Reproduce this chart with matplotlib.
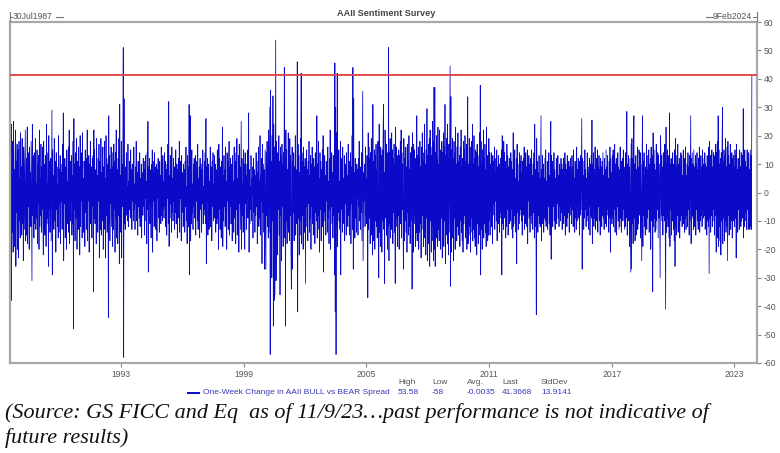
import matplotlib
matplotlib.use("Agg")
import matplotlib.pyplot as plt
from matplotlib.lines import Line2D
import pandas as pd

# ---- data: one-week change in AAII bull-bear spread (weekly) ----
wk_1987_1992 = [
    35, -22, 12, -38, 24, -14, 18, -6, -21, 25, -16, 8, -19, 13, 22, -26, 11, -7, 17, -20, 9, 15, -23, 18, -10, 5, -16, 21, -12,
    9, -15, 19, -11, 6, -24, 16, 10, -13, 4, 22, -17, -6, 12, -15, 23, -18, 10, -5, 14, -20, 16, -9, 7, -12, 18,
    -10, -31, 24, -8, 13, -4, -16, 14, 6, -11, 19, -13, 3, -9, 15, -18, 10, -4, 13, -20, 22, -12, 5, -8, 17, -14,
    9, -6, 16, -12, -22, 18, -4, 10, -15, 7, 13, -19, 24, -11, 3, -9, 14, -26, 20, -6, 11, -14, 8, 12, -17, 5,
    29, -29, 15, -7, 6, -13, 19, -10, 4, 11, -21, 14, -6, 9, -12, 3, -16, 20, -14, 8, -4, 13, -18, 10, -3, 7,
    -13, 17, -7, 28, -24, 10, -4, 12, -16, 6, 9, -20, 15, -11, 4, -8, 16, -14, 22, -18, 8, -10, 11, -3, 13, -15,
    6, -11, 18, -48, 26, -6, 10, -17, 14, -4, -9, 19, -20, 11, 3, -13, 16, -8, 9, -22, 20, -12, 6, -3, 14, -16,
    21, -10, 5, -14, 11, 6, -19, 15, -7, 12, -4, -13, 22, -17, 8, -3, 13, -21, 10, -6, 18, -11, 3, 9, -16, 12,
    -5, 13, -35, 22, -9, 15, -11, 5, 8, -18, 19, -10, 6, -14, 12, -3, 17, -23, 11, 4, -13, 19, -15, 7, -10, 11,
    16, -20, 9, -6, 18, -13, 5, -23, 20, -8, 12, -14, 6, 10, -44, 27, -11, 13, -17, 8, -4, 16, -12, 3, 14, -19,
    9, -13, 17, -6, 11, -21, 14, -9, 22, -16, 5, 8, -18, 12, -8, 19, -25, 31, -12, 6, -14, 18, -23, 10, -5, 13,
]
wk_1993_1998 = [
    51, -58, 33, -11, 5, -13, 9, -3, 14, -8, 2, -10, 17, -12, 4, -6, 11, -2, -9, 15, -5, 8, -13, 10, -3, 6,
    -10, 16, -6, 3, -13, 9, -4, 18, -10, 2, 7, -15, 11, -5, 3, -9, 14, -12, 5, -3, 10, -16, 7, 1, -8, 12,
    -5, 11, -15, 8, -2, 13, -10, 4, -18, 14, -6, 25, -28, 9, -4, 12, -11, 3, 8, -16, 10, -5, 15, -21, 11, -3,
    7, -12, 14, -4, 9, -13, 2, 10, -17, 8, -2, 12, -9, 5, -14, 11, -3, 6, -11, 16, -8, 2, -10, 13, -6, 4,
    -9, 14, -5, 11, -12, 3, 8, -15, 10, -2, 17, -11, 32, -19, 6, -9, 13, -4, 2, -14, 16, -7, 5, -10, 12, -3,
    9, -13, 4, -7, 15, -11, 2, 10, -16, 8, -3, 12, -9, 18, -14, 5, -2, 11, -17, 13, -7, 3, 7, -12, 10, -5,
    8, -14, 11, -5, 16, -10, 2, -18, 13, -4, 9, -12, 31, -29, 14, 27, -17, 6, -11, 15, -7, 3, -13, 10, -5, 12,
    -9, 4, 13, -15, 8, -3, 11, -10, 17, -13, 5, -2, 9, -16, 12, -6, 3, 10, -14, 8, -4, 15, -11, 2, -8, 11,
    -6, 14, -11, 26, -25, 9, -3, 12, -15, 6, 10, -13, 4, -8, 16, -12, 2, 9, -17, 11, -5, 14, -10, 3, -9, 13,
    -4, 10, -14, 8, 2, -11, 15, -9, 5, -20, 17, -6, 12, -13, 3, 9, -16, 11, -4, 23, -19, 6, -10, 13, -5, 8,
    -12, 16, -7, 4, -20, 14, -3, 11, -13, 6, 18, -15, 9, -5, 12, -11, 2, 10, -17, 13, -7, 4, -14, 16, -9, 6,
    11, -18, 14, -6, 19, -15, 5, -10, 13, -21, 17, -4, 9, -13, 7, 25, -20, 12, -8, 3, -14, 15, -7, 10, -20, 14,
]
wk_1999_2004 = [
    -4, 10, -13, 6, -2, 15, -9, 4, 28, -21, 8, -11, 2, -6, 13, -10, 5, -1, 9, -16, 12, -7, 3, 8, -14, 6,
    -8, 14, -5, 11, -18, 7, -2, 16, -12, 4, -9, 20, -15, 6, -3, 12, -25, 17, -7, 1, 10, -14, 8, -27, 15, -4,
    -27, 14, -8, 18, -12, 10, -16, 22, -14, 8, 30, -57, 36, -18, 11, -30, 20, -10, 34, -47, 24, -38, 16, -36, 13, 53.58,
    -31, 18, -10, 14, -22, 9, -6, 20, -15, 11, -36, 16, -8, 13, -24, 17, -5, 10, -19, 14, -11, 44, -16, 12, -47, 22,
    -10, 15, -18, 8, -12, 21, -14, 6, -17, 19, -8, 13, -21, -34, 10, 16, -27, 11, -7, 14, -17, 9, -13, 20, -15, 8,
    4, -11, 46, -42, 17, -9, 13, -22, 7, -15, 19, -10, 42, -18, 14, -8, 11, -20, 16, -6, 9, -14, 12, -32, 10, -5,
    15, -12, 8, -17, 11, -4, 18, -14, 6, -9, 13, -20, 10, -5, 16, -11, 7, -15, 12, -3, 9, -18, 14, -7, 5, -10,
    27, -16, 10, -13, 18, -8, 5, -21, 14, -6, 11, -17, 8, -4, 15, -12, 20, -28, 9, -7, 13, -10, 6, -15, 11, -3,
    8, -14, 16, -9, 4, -18, 12, -6, 22, -20, 10, -5, 14, -11, 7, -16, 13, -8, 9, -29, 45.6, -42, 30, -57, 21, -12,
    42, -19, 11, -7, 15, -10, 4, -13, 18, -29, 12, -6, 9, -14, 16, -8, 5, -11, 13, -17, 7, -4, 10, -15, 14, -9,
    6, -12, 17, -8, 3, -15, 11, -6, 14, -18, 9, -4, 20, -13, 44, -27, 33, -11, 7, -16, 12, -9, 5, -14, 10, -2,
    8, -15, 12, -5, 18, -10, 4, -13, 9, -7, 14, -17, 11, 35.6, -24, -6, 7, -3, 10, -12, 16, -8, 5, -11, 13, -6,
]
wk_2005_2010 = [
    -37, 21, -13, 16, -9, 12, -18, 14, -7, 19, -15, 10, -22, 31, -17, 11, -8, 15, -20, 13, -10, 17, -12, 8, -16, 14,
    18, -11, -30, 24, -14, 9, -19, 16, -8, 13, -21, 15, -10, 20, 31, -13, 7, -32, 22, 12, -9, 17, -15, 11, -20, 14,
    -12, 51, -24, 14, -11, 19, -16, 8, -13, 21, -10, 15, -18, 12, -7, 17, -14, 10, -32, 23, -12, 16, -9, 13, -19, 11,
    -8, 15, -20, 13, -9, 18, -11, 22, -16, 14, -6, 10, -13, -27, 19, 8, -17, 12, -10, 16, -14, 9, -21, 17, -7, 11,
    -15, 20, -12, 8, -18, 14, -10, 13, 16, -34, 21, 9, -21, 17, -11, 15, -8, 12, -19, 10, -14, 27, -17, 13, -9, 16,
    -20, 12, -14, 18, -11, 9, -23, 16, -13, 21, -8, 14, -19, 11, -16, 24, -12, 10, -22, 15, -9, 29.5, -24, 13, -18, 17,
    -14, 19, -26, 22, -10, 16, -21, 13, -17, 25, -12, 18, -24, 37, -20, 37, -26, 14, -11, 20, -16, 12, -19, 23, -13, 10,
    -17, 22, -13, 15, -20, 11, -9, 18, -23, 14, -12, 21, -19, 16, -10, 31, -25, 13, -15, 19, -11, 24, -18, 12, -22, 17,
    -14, 20, 44.5, -33, 33.7, -21, 15, -11, 19, -16, 12, -24, 18, -9, 14, -20, 23, -13, 10, -17, 16, -12, 21, -15, 11, -8,
    13, -19, 16, -10, 22, -14, 9, -17, 12, -21, 18, -11, 15, -8, 20, -16, 11, -13, 17, -20, 14, 33.7, -18, 10, -15, 19,
    -12, 16, -21, 11, -9, 18, -14, 24, -17, 10, -13, 20, -16, 12, -19, 15, -8, 14, -22, 17, -11, 13, -18, 9, -15, 21,
    -12, 37.7, -29, 18, -13, 10, -20, 15, -9, 22, -16, 12, -11, 17, -14, 8, -19, 23, -12, 13, -17, 10, -15, 19, -10, 14,
]
wk_2011_2016 = [
    -15, 10, -7, 14, -12, 6, -18, 13, -4, 11, -8, 16, -13, 7, -3, 12, -10, 15, -17, 9, -5, 13, -11, 4, -14, 10,
    -7, 12, -9, 15, -29, 20, -11, 6, -13, 18, -9, 14, -4, 11, -16, 8, -12, 17, -6, 13, -15, 9, -3, 12, -11, 7,
    -10, 14, -6, 11, -13, 8, -16, 21, -12, 7, -8, 15, -11, 5, -14, 12, -25, 17, -7, 10, -13, 4, -11, 14, -8, 11,
    -6, 13, -10, 7, -15, 11, -4, 12, -8, 16, -13, 5, -11, 14, -7, 9, -12, 15, -18, 8, -3, 13, -9, 10, -14, 7,
    12, -8, 15, -11, 6, -13, 10, -7, 14, -16, 24, -12, 8, -5, -43, 19, -10, 11, -14, 7, -8, 13, -11, 5, -12, 9,
    27, -17, 8, -11, 13, -7, 10, -14, 5, -9, 12, -10, 15, -12, 4, -7, 11, -13, 8, -5, 14, -11, 6, -15, 9, 25,
    -23.5, 13, -8, 11, -12, 7, -5, 14, -10, 8, -13, 5, -7, 12, -11, 9, -4, 13, -9, 6, -12, 10, -5, 8, -10, 12,
    -7, 10, -13, 8, -4, 12, -11, 6, -8, 14, -15, 10, -5, 8, -12, 13, -9, 5, -7, 11, -14, 9, -8, 12, -5, 8,
    -11, 13, -6, 9, -12, 15, -8, 5, -14, 11, -9, 7, -13, 16, -10, 8, -5, 12, -9, 7, -15, 11, -8, 13, -6, 9,
    26, -27, 12, -8, 6, -13, 11, -9, 15, -6, 8, -12, 5, -10, 14, -8, 9, -13, 7, -5, 12, -15, 10, -8, 13, -9,
    25.5, -18, 10, -6, 14, -12, 8, -9, 16, -13, 6, -10, 12, -8, 15, -14, 9, -5, 13, -10, 8, -15, 12, -6, 9, -12,
    11, -8, 14, -9, 6, -13, 12, -5, 8, -11, 15, -12, 9, -6, 13, -8, 5, -14, 11, -9, 16, -21, 12, -8, 7, -11,
]
wk_2017_2023 = [
    13, -9, 15, -12, 8, -6, 17, -14, 10, -8, 12, -15, 6, -5, 14, -10, 9, -13, 8, -12, 16, -9, 6, -14, 11, -8,
    12, -10, 15, -6, 9, -13, 8, -12, 14, -9, 6, 28.5, -15, 10, -8, 13, -10, 9, -19, 12, -6, -28, 17, -27, 19, -11,
    12, -18, 14, 27, -9, 10, -17, 7, 13, -15, 8, -10, 16, -13, 9, -11, 15, 12, -8, 14, -16, 10, -6, -24, 13, 27,
    -19, 11, -8, 14, -12, 6, -15, 9, -10, 17, -13, 8, -9, 13, -6, 15, -14, 10, -8, 12, -20, 16, -10, 8, 13, -35,
    21, -12, 15, -9, 10, -14, 8, -13, 17, -10, 9, -6, 14, -16, 13, -9, 10, -12, -30, 20, 12, -8, 13, -10, 9, -15,
    14, -8, 12, -10, 17, -13, -41, 23, -14, 10, -9, 15, -12, 8, 13, -16, 28, -19, 10, -6, 12, -15, 9, -10, 14, -8,
    -13, 10, -17, 15, -26, 19, -12, 9, -15, 13, -8, 17, -14, 10, -6, 12, -16, 9, -10, 14, -8, 13, -12, 6, -9, 15,
    -11, 8, -14, 12, -9, 16, -13, 6, -8, 10, -12, 14, -6, 9, -15, 13, -10, 8, 27, -18, 12, -9, 14, -8, 10, -13,
    15, -12, 9, -8, 13, -15, 10, -6, 14, -10, 8, -13, 12, -9, 16, -14, 6, -10, 13, -8, 9, -12, 15, -6, 10, -9,
    12, -8, 14, -13, 10, -6, 9, -15, 13, -10, 8, -12, 16, -28.5, 18, -9, 13, -14, 10, -8, 15, -12, 9, -6, 14, -10,
    13, -15, 10, -8, 17, -21, 14, -11, 18, -16, 27, -19, 15, -12, 10, -17, 12, -22, 14, -10, 16, 30, -18, 11, -9, 15,
    -17, 13, -10, 19, -14, 9, -12, 16, -24, 18, -8, 13, -15, 10, -9, 17, -13, 8, -10, 14, -16, 12, -6, 13, -10, 9,
    -12, 15, -9, 13, -23, 17, -10, 8, -14, 12, -6, 10, -13, 15, -8, 9, -12, 14, -10, 6, 13, -9, 29.5, -16, 10, -12,
    15, -7, 11, -10, 9, -13, 15, -6, 10, -13, 14, -9, 8, -13, 15, -12, 13, -13, 41.3668,
]

series_name = "One-Week Change in AAII BULL vs BEAR Spread"
stat_labels = ["High", "Low", "Avg.", "Last", "StdDev"]
stat_values = ["53.58", "-58", "-0.0035", "41.3668", "13.9141"]
last_value = 41.3668
x_tick_years = [1993, 1999, 2005, 2011, 2017, 2023]
y_ticks = list(range(-60, 61, 10))
range_start, range_end = "1987-07-30", "2024-02-09"
last_date = "2023-11-09"

values = (wk_1987_1992 + wk_1993_1998 + wk_1999_2004 + wk_2005_2010
          + wk_2011_2016 + wk_2017_2023)
dates = pd.date_range(end=last_date, periods=len(values), freq="7D")

# ---- figure ----
W, H = 780, 453
fig = plt.figure(figsize=(W / 100, H / 100), dpi=100)
fig.patch.set_facecolor("white")

def fx(px):
    return px / W

def fy(py):
    return 1 - py / H

L, R, T, B = 10, 757, 22, 363
ax = fig.add_axes([fx(L), fy(B), fx(R - L), (B - T) / H])

blue = "#0a0ac8"
ax.plot(dates, values, color=blue, lw=0.55)
ax.axhline(last_value, color="#e04040", lw=1.3, zorder=3)

ax.set_ylim(-60, 60)
ax.set_xlim(pd.Timestamp(range_start), pd.Timestamp(range_end))

grey = "#a8a8a8"
for s in ax.spines.values():
    s.set_color(grey)
    s.set_linewidth(1.6)

ax.yaxis.tick_right()
ax.set_yticks(y_ticks)
ax.set_yticklabels([str(v) for v in y_ticks])
ax.set_xticks([pd.Timestamp(f"{y}-01-01") for y in x_tick_years])
ax.set_xticklabels([str(y) for y in x_tick_years])
ax.tick_params(axis="both", direction="out", length=3, width=0.8, color="#888888",
               labelsize=6.2, labelcolor="#555555", pad=2)
for lab in ax.get_xticklabels() + ax.get_yticklabels():
    lab.set_family("Liberation Sans")

# title and range labels
fig.text(fx(386), fy(13.5), "AAII Sentiment Survey", ha="center", va="center",
         fontsize=6.6, fontweight="bold", color="#444444", family="Liberation Sans")
fig.text(fx(13), fy(16.5), "30Jul1987", ha="left", va="center", fontsize=6.2,
         color="#555555", family="Liberation Sans")
fig.text(fx(752), fy(16.5), "9Feb2024", ha="right", va="center", fontsize=6.2,
         color="#555555", family="Liberation Sans")
deco = [((10, 10), (12, 21)), ((10, 12.5), (16.5, 16.5)), ((56, 63), (16.5, 16.5)),
        ((706, 713), (16.5, 16.5)), ((753, 757), (16.5, 16.5)), ((757, 757), (12, 21))]
for xs, ys in deco:
    fig.add_artist(Line2D([fx(xs[0]), fx(xs[1])], [fy(ys[0]), fy(ys[1])],
                          color="#777777", lw=0.8, transform=fig.transFigure))

# legend row
leg_blue = "#3838b8"
fig.add_artist(Line2D([fx(188), fx(199)], [fy(393), fy(393)], color=blue, lw=1.4,
                      transform=fig.transFigure))
fig.text(fx(203), fy(393), series_name, ha="left", va="center", fontsize=6.0,
         color=leg_blue, family="Liberation Sans")
stat_x = [398, 432, 467, 502, 541]
for xp, lab, val in zip(stat_x, stat_labels, stat_values):
    fig.text(fx(xp), fy(383), lab, ha="left", va="center", fontsize=6.0,
             color="#555555", family="Liberation Sans")
    fig.text(fx(xp), fy(393), val, ha="left", va="center", fontsize=6.0,
             color=leg_blue, family="Liberation Sans")

# caption, fitted to the reference width
cap1 = "(Source: GS FICC and Eq  as of 11/9/23\u2026past performance is not indicative of"
cap2 = "future results)"
fs0 = 16
t1 = fig.text(fx(5), fy(413), cap1, ha="left", va="center", fontsize=fs0,
              style="italic", family="Liberation Serif", color="#111111")
fig.canvas.draw()
bw = t1.get_window_extent(renderer=fig.canvas.get_renderer()).width
fs = fs0 * 705.0 / bw
t1.set_fontsize(fs)
fig.text(fx(5), fy(438), cap2, ha="left", va="center", fontsize=fs,
         style="italic", family="Liberation Serif", color="#111111")

fig.savefig("out.png", dpi=100, facecolor="white")
